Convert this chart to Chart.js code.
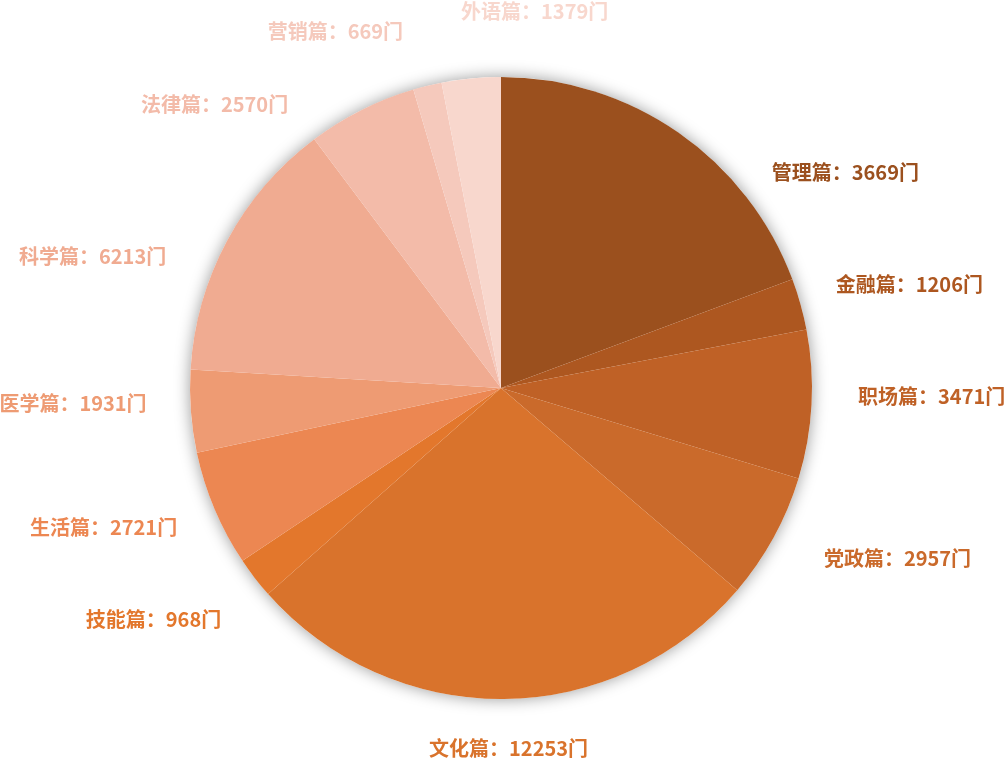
<!DOCTYPE html>
<html>
<head>
<meta charset="utf-8">
<script src="https://cdn.jsdelivr.net/npm/chart.js@4.4.1/dist/chart.umd.min.js"></script>
<style>
  html, body { margin: 0; padding: 0; background: #fff; }
  #wrap { width: 1005px; height: 764px; position: relative; }
</style>
</head>
<body>
<div id="wrap"><canvas id="chart"></canvas></div>
<script>
// categories and the counts printed in the labels
const categories = ['管理篇', '金融篇', '职场篇', '党政篇', '文化篇', '技能篇', '生活篇', '医学篇', '科学篇', '法律篇', '营销篇', '外语篇'];
const labelCounts = [3669, 1206, 3471, 2957, 12253, 968, 2721, 1931, 6213, 2570, 669, 1379];
// slice sizes as drawn (管理篇 slice is drawn much bigger than its label says)
const sliceValues = [8700, 1206, 3471, 2957, 12253, 968, 2721, 1931, 6213, 2570, 669, 1379];

const colors = ['#9b501e', '#ad5720', '#bf6126', '#ca6a2b', '#d9732c', '#e3772c',
                '#ec8752', '#ee9b73', '#f0ab91', '#f3bba9', '#f5c9bc', '#f8d7cd'];

// label placement around the pie: angle (deg, clockwise from top) and distance / radius
const labelAngle = [57.9, 75.7, 91.1, 113.2, 178.8, 236.3, 250.7, 268, 287.9, 314.75, 335.1, 5.1];
const labelDist = [1.307, 1.355, 1.385, 1.387, 1.158, 1.343, 1.354, 1.377, 1.380, 1.297, 1.265, 1.217];

const shadowPlugin = {
  id: 'pieShadow',
  beforeDatasetsDraw(chart) {
    const arc = chart.getDatasetMeta(0).data[0];
    if (!arc) return;
    const ctx = chart.ctx;
    ctx.save();
    ctx.shadowColor = 'rgba(0,0,0,0.4)';
    ctx.shadowBlur = 16;
    ctx.fillStyle = '#fff';
    ctx.beginPath();
    ctx.arc(arc.x, arc.y, arc.outerRadius, 0, Math.PI * 2);
    ctx.fill();
    ctx.restore();
  }
};

const labelPlugin = {
  id: 'pieLabels',
  afterDatasetsDraw(chart) {
    const arc = chart.getDatasetMeta(0).data[0];
    if (!arc) return;
    const ctx = chart.ctx;
    ctx.save();
    ctx.font = 'bold 20px "Noto Sans CJK SC", sans-serif';
    ctx.textAlign = 'center';
    ctx.textBaseline = 'middle';
    categories.forEach((name, i) => {
      const a = labelAngle[i] * Math.PI / 180;
      const d = arc.outerRadius * labelDist[i];
      const x = arc.x + d * Math.sin(a);
      const y = arc.y - d * Math.cos(a);
      ctx.fillStyle = colors[i];
      ctx.fillText(name + '：' + labelCounts[i] + '门', x, y);
    });
    ctx.restore();
  }
};

new Chart(document.getElementById('chart'), {
  type: 'pie',
  data: {
    labels: categories,
    datasets: [{
      data: sliceValues,
      backgroundColor: colors,
      borderWidth: 0,
      hoverOffset: 0
    }]
  },
  options: {
    responsive: true,
    maintainAspectRatio: false,
    animation: false,
    layout: { padding: { left: 190, right: 193, top: 77, bottom: 65 } },
    plugins: {
      legend: { display: false },
      tooltip: { enabled: false }
    }
  },
  plugins: [shadowPlugin, labelPlugin]
});
</script>
</body>
</html>
